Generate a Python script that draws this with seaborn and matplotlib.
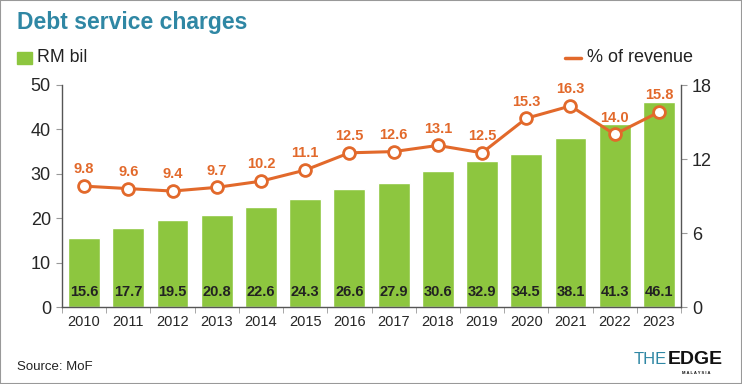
import matplotlib
matplotlib.use("Agg")
import matplotlib.pyplot as plt
import seaborn as sns
import numpy as np
import pandas as pd
from matplotlib.patches import Rectangle
from matplotlib.lines import Line2D

years = ["2010", "2011", "2012", "2013", "2014", "2015", "2016",
         "2017", "2018", "2019", "2020", "2021", "2022", "2023"]
rm_bil = [15.6, 17.7, 19.5, 20.8, 22.6, 24.3, 26.6, 27.9, 30.6, 32.9, 34.5, 38.1, 41.3, 46.1]
pct_revenue = [9.8, 9.6, 9.4, 9.7, 10.2, 11.1, 12.5, 12.6, 13.1, 12.5, 15.3, 16.3, 14.0, 15.8]

GREEN = "#8dc63f"
ORANGE = "#e2692b"
TEAL = "#2f87a4"
GREY = "#555555"

sns.set_style("white")
plt.rcParams["font.family"] = ["Liberation Sans", "DejaVu Sans"]

df = pd.DataFrame({"year": years, "rm": rm_bil, "pct": pct_revenue})

fig = plt.figure(figsize=(7.42, 3.84), dpi=100)
ax = fig.add_axes([62 / 742, 1 - 307 / 384, (681 - 62) / 742, (307 - 85) / 384])

sns.barplot(data=df, x="year", y="rm", color=GREEN, saturation=1, width=0.72, ax=ax)
ax.set_xlim(-0.5, len(years) - 0.5)
ax.set_ylim(0, 50)
ax.set_yticks([0, 10, 20, 30, 40, 50])
ax.set_xlabel("")
ax.set_ylabel("")
ax.tick_params(axis="y", labelsize=13, length=4, color="#999999", pad=4, left=True)
ax.tick_params(axis="x", labelsize=10.5, length=0, pad=6)
ax.set_xticks(np.arange(-0.5, len(years), 1), minor=True)
ax.tick_params(axis="x", which="minor", length=4, color="#999999", bottom=True)

for s in ["top", "right"]:
    ax.spines[s].set_visible(False)
for s in ["left", "bottom"]:
    ax.spines[s].set_color(GREY)
    ax.spines[s].set_linewidth(1)

for i, v in enumerate(rm_bil):
    ax.annotate(f"{v:.1f}", (i, 0), xytext=(0, 11), textcoords="offset points",
                ha="center", va="center", fontsize=10.5, fontweight="bold", color="#222222")

ax2 = ax.twinx()
x_pos = np.arange(len(years))
sns.lineplot(x=x_pos, y=pct_revenue, ax=ax2, color=ORANGE, linewidth=2.2, marker="o",
             markersize=8.5, markerfacecolor="white", markeredgecolor=ORANGE,
             markeredgewidth=2, zorder=3)
ax2.set_ylim(0, 18)
ax2.set_yticks([0, 6, 12, 18])
ax2.set_ylabel("")
ax2.tick_params(axis="y", labelsize=13, length=4, color="#999999", pad=4, right=True)
for s in ["top", "left", "bottom"]:
    ax2.spines[s].set_visible(False)
ax2.spines["right"].set_color(GREY)
ax2.spines["right"].set_linewidth(1)

for i, v in enumerate(pct_revenue):
    ax2.annotate(f"{v:.1f}", (i, v), xytext=(0, 7), textcoords="offset points",
                 ha="center", va="bottom", fontsize=10.5, fontweight="bold", color=ORANGE)

# title and legend-like header
fig.text(17 / 742, 1 - 23 / 384, "Debt service charges", fontsize=16.5, fontweight="heavy",
         color=TEAL, va="center", ha="left")
fig.patches.append(Rectangle((17 / 742, 1 - 64 / 384), 15 / 742, 12 / 384,
                             transform=fig.transFigure, color=GREEN))
fig.text(37 / 742, 1 - 58 / 384, "RM bil", fontsize=12.8, va="center", ha="left", color="#222222")
fig.lines.append(Line2D([565 / 742, 581 / 742], [1 - 58 / 384, 1 - 58 / 384],
                        transform=fig.transFigure, color=ORANGE, linewidth=2.5))
fig.text(587 / 742, 1 - 58 / 384, "% of revenue", fontsize=13, va="center", ha="left",
         color="#222222")

fig.text(17 / 742, 1 - 367 / 384, "Source: MoF", fontsize=9.5, va="center", ha="left",
         color="#222222")
fig.text(634 / 742, 1 - 360 / 384, "THE", fontsize=12, va="center", ha="left", color=TEAL)
fig.text(668 / 742, 1 - 360 / 384, "EDGE", fontsize=14, va="center", ha="left",
         color="#111111", fontweight="bold")
fig.text(696 / 742, 1 - 373 / 384, "M A L A Y S I A", fontsize=3, va="center", ha="center",
         color="#111111", fontweight="bold")

fig.patches.append(Rectangle((0, 0), 1, 1, transform=fig.transFigure, fill=False,
                             edgecolor="#999999", linewidth=1.5))

fig.savefig("out.png", dpi=100)
